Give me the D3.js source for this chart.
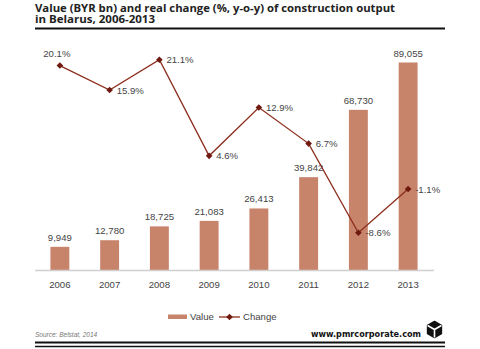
<!DOCTYPE html>
<html>
<head>
<meta charset="utf-8">
<script src="https://cdn.jsdelivr.net/npm/d3@7"></script>
<style>
  body { margin: 0; background: #fff; }
  svg { display: block; }
  .lbl { font-family: 'Liberation Sans', Arial, sans-serif; font-size: 9.6px; fill: #444; }
</style>
</head>
<body>
<div id="chart"></div>
<script>
var years = ['2006', '2007', '2008', '2009', '2010', '2011', '2012', '2013'];
var values = [9949, 12780, 18725, 21083, 26413, 39842, 68730, 89055];
var changes = [20.1, 15.9, 21.1, 4.6, 12.9, 6.7, -8.6, -1.1];

var width = 480;
var height = 349;
var left = 35;
var right = 433;
var base = 270;
var plotTop = 37;

var barColor = '#c7846a';
var lineColor = '#8c2d1c';
var dotColor = '#6e1a10';

var svg = d3.select('#chart').append('svg')
    .attr('width', width)
    .attr('height', height);

// title
svg.append('text')
    .text('Value (BYR bn) and real change (%, y-o-y) of construction output')
    .attr('x', left).attr('y', 11.5)
    .attr('textLength', 360).attr('lengthAdjust', 'spacingAndGlyphs')
    .style('font-family', 'Open Sans, sans-serif').style('font-weight', 700)
    .style('font-size', '10.5px').style('fill', '#222');
svg.append('text')
    .text('in Belarus, 2006-2013')
    .attr('x', left).attr('y', 23)
    .attr('textLength', 120).attr('lengthAdjust', 'spacingAndGlyphs')
    .style('font-family', 'Open Sans, sans-serif').style('font-weight', 700)
    .style('font-size', '10.5px').style('fill', '#222');
svg.append('line')
    .attr('x1', left).attr('x2', 445).attr('y1', 28.5).attr('y2', 28.5)
    .style('stroke', '#111').style('stroke-width', 2);

var xScale = d3.scaleBand()
    .domain(years)
    .range([left, right])
    .paddingInner(0.62)
    .paddingOuter(0.31);

var yScale = d3.scaleLinear().domain([0, 100000]).range([base, plotTop]);
var y2Scale = d3.scaleLinear().domain([-15, 25]).range([base, plotTop]);

var cx = function (d, i) { return xScale(years[i]) + xScale.bandwidth() / 2; };

// bars
svg.append('g').selectAll('rect')
    .data(values)
    .enter()
    .append('rect')
    .attr('x', (d, i) => xScale(years[i]))
    .attr('y', d => yScale(d))
    .attr('width', xScale.bandwidth())
    .attr('height', d => base - yScale(d))
    .style('fill', barColor);

svg.append('g').selectAll('text')
    .data(values)
    .enter()
    .append('text')
    .attr('class', 'lbl')
    .attr('x', cx)
    .attr('y', d => yScale(d) - 6)
    .attr('text-anchor', 'middle')
    .text(d => d3.format(',')(d));

// x axis
var xAxis = d3.axisBottom(xScale).tickSize(0).tickPadding(11);
var gx = svg.append('g')
    .attr('transform', `translate(0,${base})`)
    .call(xAxis);
gx.select('.domain').attr('d', `M${left},0.5H434`).style('stroke', '#cfcfcf').style('stroke-width', 1.5);
gx.selectAll('text').attr('class', 'lbl');
gx.attr('font-size', null).attr('font-family', null);

// change line
var line = d3.line()
    .x((d, i) => cx(d, i))
    .y(d => y2Scale(d));

svg.append('path')
    .datum(changes)
    .attr('d', line)
    .style('fill', 'none')
    .style('stroke', lineColor)
    .style('stroke-width', 1.3);

var diamond = d3.symbol().type(d3.symbolDiamond2).size(28);

svg.append('g').selectAll('path')
    .data(changes)
    .enter()
    .append('path')
    .attr('d', diamond)
    .attr('transform', (d, i) => `translate(${cx(d, i)},${y2Scale(d)})`)
    .style('fill', dotColor);

svg.append('g').selectAll('text')
    .data(changes)
    .enter()
    .append('text')
    .attr('class', 'lbl')
    .attr('x', (d, i) => i === 0 ? cx(d, i) - 3 : cx(d, i) + 7)
    .attr('y', (d, i) => i === 0 ? y2Scale(d) - 8.5 : y2Scale(d) + 3.5)
    .attr('text-anchor', (d, i) => i === 0 ? 'middle' : 'start')
    .text(d => d.toFixed(1) + '%');

// legend
var legend = svg.append('g');
legend.append('rect')
    .attr('x', 168).attr('y', 314.5).attr('width', 19).attr('height', 4.5)
    .style('fill', barColor);
legend.append('text').attr('class', 'lbl')
    .attr('x', 190).attr('y', 320).text('Value');
legend.append('line')
    .attr('x1', 219).attr('x2', 240).attr('y1', 317).attr('y2', 317)
    .style('stroke', lineColor).style('stroke-width', 1.3);
legend.append('path')
    .attr('d', diamond)
    .attr('transform', 'translate(229.5,317)')
    .style('fill', dotColor);
legend.append('text').attr('class', 'lbl')
    .attr('x', 243).attr('y', 320).text('Change');

// footer
svg.append('text')
    .text('Source: Belstat, 2014')
    .attr('x', left).attr('y', 337)
    .style('font-family', 'Liberation Sans, Arial, sans-serif')
    .style('font-style', 'italic').style('font-size', '6.5px').style('fill', '#777');
svg.append('text')
    .text('www.pmrcorporate.com')
    .attr('x', 421).attr('y', 337)
    .attr('text-anchor', 'end')
    .attr('textLength', 110).attr('lengthAdjust', 'spacingAndGlyphs')
    .style('font-family', 'DejaVu Sans, sans-serif').style('font-weight', 700)
    .style('font-size', '9px').style('fill', '#111');

// logo
var lg = svg.append('g').attr('transform', 'translate(434.5,329.5)');
var hex = d3.range(6).map(k => {
    var a = Math.PI / 3 * k - Math.PI / 2;
    return [8 * Math.cos(a), 8 * Math.sin(a)];
});
lg.append('path')
    .attr('d', d3.line().curve(d3.curveLinearClosed)(hex))
    .style('fill', '#111').style('stroke', '#111').style('stroke-width', 1.5).style('stroke-linejoin', 'round');
lg.append('path')
    .attr('d', 'M-6.9,-4L0,0L6.9,-4M0,0V8')
    .style('fill', 'none').style('stroke', '#fff').style('stroke-width', 1.6);

svg.append('line')
    .attr('x1', left).attr('x2', 445).attr('y1', 342.5).attr('y2', 342.5)
    .style('stroke', '#111').style('stroke-width', 2);
svg.append('line')
    .attr('x1', left).attr('x2', 445).attr('y1', 346.5).attr('y2', 346.5)
    .style('stroke', '#111').style('stroke-width', 1.5);
</script>
</body>
</html>
